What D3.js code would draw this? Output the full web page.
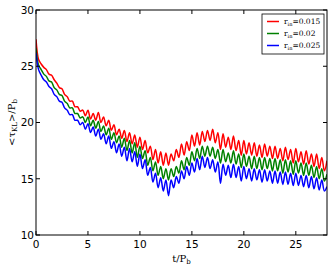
<!DOCTYPE html>
<html>
<head>
<meta charset="utf-8">
<script src="https://cdn.jsdelivr.net/npm/d3@7"></script>
<style>
body { margin: 0; background: #fff; }
</style>
</head>
<body>
<div id="chart"></div>
<script>
// sampled every 0.25 P_b from t = 0 to 28
var tStep = 0.25

var red = [
    27.4, 25.6, 25.2, 24.9, 24.7, 24.3, 24.2, 23.8, 23.5, 23.1, 23.0, 22.5,
    22.3, 21.9, 21.9, 21.4, 21.4, 21.0, 21.1, 20.6, 21.1, 20.3, 20.8, 20.2,
    20.9, 20.0, 20.5, 19.7, 20.2, 19.3, 19.8, 18.9, 19.4, 18.6, 19.3, 18.3,
    19.1, 18.1, 18.9, 17.8, 18.7, 17.6, 18.4, 17.3, 17.9, 16.7, 17.6, 16.4,
    17.4, 16.2, 17.3, 16.2, 17.2, 16.6, 17.6, 16.9, 18.1, 17.1, 18.3, 17.5,
    18.9, 17.9, 19.1, 18.0, 19.2, 18.3, 19.3, 18.4, 19.4, 18.2, 19.1, 17.6,
    19.0, 17.8, 18.7, 17.6, 18.8, 17.5, 18.4, 17.1, 18.4, 17.2, 18.2, 17.1,
    18.2, 17.0, 18.0, 16.9, 18.1, 17.0, 17.9, 16.8, 17.9, 16.8, 17.7, 16.6,
    17.8, 16.7, 17.6, 16.4, 17.7, 16.5, 17.4, 16.3, 17.5, 16.3, 17.2, 16.1,
    17.2, 15.9, 16.9, 15.7, 16.6
]

var green = [
    26.6, 25.1, 24.7, 24.3, 24.1, 23.7, 23.6, 23.1, 22.9, 22.5, 22.4, 21.9,
    21.7, 21.3, 21.3, 20.8, 20.8, 20.4, 20.5, 20.0, 20.5, 19.7, 20.2, 19.5,
    20.1, 19.2, 19.7, 18.9, 19.5, 18.5, 19.1, 18.2, 18.8, 17.8, 18.6, 17.5,
    18.4, 17.3, 18.2, 16.9, 17.9, 16.8, 17.5, 16.2, 16.9, 15.7, 16.5, 15.3,
    16.1, 15.0, 15.9, 14.9, 15.9, 15.2, 16.1, 15.5, 16.6, 15.8, 16.9, 16.2,
    17.4, 16.6, 17.7, 16.8, 17.9, 17.0, 17.9, 17.0, 17.8, 16.8, 17.6, 16.4,
    17.6, 16.5, 17.3, 16.4, 17.5, 16.3, 17.2, 16.0, 17.2, 16.1, 17.0, 15.9,
    17.0, 15.9, 16.9, 15.8, 16.9, 15.9, 16.8, 15.7, 16.8, 15.7, 16.7, 15.5,
    16.7, 15.6, 16.6, 15.4, 16.6, 15.5, 16.4, 15.3, 16.4, 15.3, 16.2, 15.1,
    16.1, 15.0, 15.9, 14.8, 15.4
]

var blue = [
    26.2, 24.7, 24.2, 23.8, 23.6, 23.2, 23.0, 22.5, 22.3, 21.9, 21.8, 21.3,
    21.1, 20.7, 20.7, 20.2, 20.2, 19.8, 20.0, 19.4, 19.9, 19.1, 19.6, 18.8,
    19.4, 18.5, 19.0, 18.1, 18.8, 17.7, 18.3, 17.3, 18.1, 17.0, 17.8, 16.6,
    17.7, 16.5, 17.4, 16.1, 17.2, 15.9, 16.7, 15.3, 16.0, 14.7, 15.5, 14.2,
    15.1, 13.9, 14.9, 13.5, 14.9, 14.2, 15.2, 14.6, 15.7, 15.0, 16.1, 15.3,
    16.4, 15.6, 16.8, 15.8, 17.0, 16.0, 16.9, 15.9, 16.7, 15.6, 16.5, 14.6,
    16.3, 15.3, 16.2, 15.1, 16.3, 15.1, 16.1, 14.8, 16.1, 15.0, 15.9, 14.8,
    15.9, 14.9, 15.8, 14.7, 15.8, 14.8, 15.7, 14.6, 15.7, 14.6, 15.6, 14.5,
    15.6, 14.5, 15.5, 14.4, 15.5, 14.4, 15.3, 14.3, 15.3, 14.2, 15.2, 14.1,
    15.1, 14.0, 14.9, 13.9, 14.3
]

var seriesNames = ["0.015", "0.02", "0.025"]
var seriesColors = ["#ff0000", "#008000", "#0000ff"]
var xTicks = [0, 5, 10, 15, 20, 25]
var yTicks = [10, 15, 20, 25, 30]

var width = 332, height = 271
var margin = {top: 10, right: 5, bottom: 36, left: 36}

var x = d3.scaleLinear().domain([0, 28]).range([margin.left, width - margin.right])
var y = d3.scaleLinear().domain([10, 30]).range([height - margin.bottom, margin.top])

var svg = d3.select("#chart").append("svg")
    .attr("width", width).attr("height", height)

svg.append("clipPath").attr("id", "clip").append("rect")
    .attr("x", x(0)).attr("y", y(30))
    .attr("width", x(28) - x(0)).attr("height", y(10) - y(30))

var line = d3.line()
    .x((d, i) => x(i * tStep))
    .y(d => y(d))
    .curve(d3.curveCatmullRom)

svg.append("g")
    .attr("clip-path", "url(#clip)")
    .selectAll("path")
    .data([red, green, blue])
    .enter().append("path")
    .attr("d", line)
    .attr("fill", "none")
    .attr("stroke", (d, i) => seriesColors[i])
    .attr("stroke-width", 1.5)
    .attr("stroke-linejoin", "round")

// ticks point inward on all four sides (matplotlib classic)
var tickFont = "DejaVu Sans, sans-serif"
var gx = svg.append("g")
xTicks.forEach(t => {
    gx.append("line").attr("x1", x(t)).attr("x2", x(t))
        .attr("y1", y(10)).attr("y2", y(10) - 4).attr("stroke", "#000")
    gx.append("line").attr("x1", x(t)).attr("x2", x(t))
        .attr("y1", y(30)).attr("y2", y(30) + 4).attr("stroke", "#000")
    gx.append("text").attr("x", x(t)).attr("y", y(10) + 13)
        .attr("text-anchor", "middle").attr("font-family", tickFont)
        .attr("font-size", 10.5).text(t)
})
var gy = svg.append("g")
yTicks.forEach(t => {
    gy.append("line").attr("x1", x(0)).attr("x2", x(0) + 4)
        .attr("y1", y(t)).attr("y2", y(t)).attr("stroke", "#000")
    gy.append("line").attr("x1", x(28)).attr("x2", x(28) - 4)
        .attr("y1", y(t)).attr("y2", y(t)).attr("stroke", "#000")
    gy.append("text").attr("x", x(0) - 2).attr("y", y(t))
        .attr("dy", "0.36em")
        .attr("text-anchor", "end").attr("font-family", tickFont)
        .attr("font-size", 10.5).text(t)
})

svg.append("rect")
    .attr("x", x(0)).attr("y", y(30))
    .attr("width", x(28) - x(0)).attr("height", y(10) - y(30))
    .attr("fill", "none").attr("stroke", "#000").attr("stroke-width", 1)

var serif = "DejaVu Serif, serif"

// x label
var xl = svg.append("text")
    .attr("x", (x(0) + x(28)) / 2).attr("y", 262)
    .attr("text-anchor", "middle").attr("font-family", serif).attr("font-size", 10)
xl.append("tspan").text("t/P")
xl.append("tspan").attr("font-size", 7).attr("dy", 2).text("b")

// y label
var yl = svg.append("text")
    .attr("transform", `translate(15,${(y(10) + y(30)) / 2}) rotate(-90)`)
    .attr("text-anchor", "middle").attr("font-family", serif).attr("font-size", 10)
yl.append("tspan").text("<τ")
yl.append("tspan").attr("font-size", 7).attr("dy", 2).text("KL")
yl.append("tspan").attr("dy", -2).text(">/P")
yl.append("tspan").attr("font-size", 7).attr("dy", 2).text("b")

// legend
var lg = svg.append("g").attr("transform", "translate(262,14)")
lg.append("rect").attr("width", 62).attr("height", 40)
    .attr("fill", "#fff").attr("stroke", "#000").attr("stroke-width", 0.8)
seriesNames.forEach((n, i) => {
    var yy = 7.5 + i * 12
    lg.append("line").attr("x1", 5).attr("x2", 17).attr("y1", yy).attr("y2", yy)
        .attr("stroke", seriesColors[i]).attr("stroke-width", 1.5)
    var tx = lg.append("text").attr("x", 22).attr("y", yy + 2.5)
        .attr("font-family", serif).attr("font-size", 7.5)
    tx.append("tspan").text("r")
    tx.append("tspan").attr("font-size", 5).attr("dy", 1.5).text("in")
    tx.append("tspan").attr("dy", -1.5).text("=" + n)
})
</script>
</body>
</html>
